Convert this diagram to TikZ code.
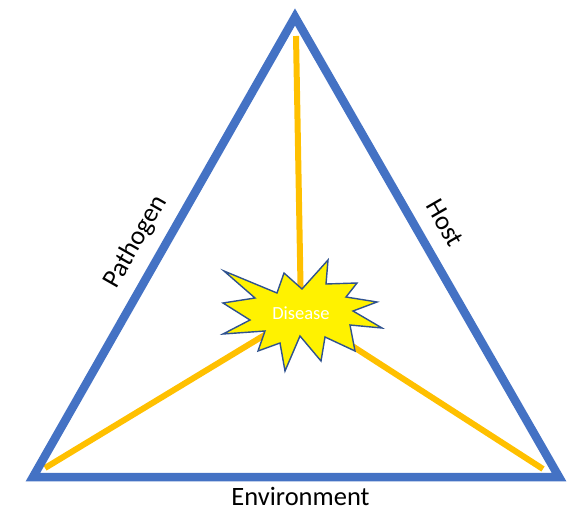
\documentclass[tikz,border=0pt]{standalone}
\usepackage{fontspec}
\setmainfont{Carlito}
\definecolor{triblue}{HTML}{4472C4}
\definecolor{spoke}{HTML}{FFC000}
\definecolor{burstedge}{HTML}{2F528F}
\begin{document}
\begin{tikzpicture}[x=1pt,y=-1pt,
  tri/.style={draw=triblue,line width=8.5pt,line join=miter},
  spokeline/.style={draw=spoke,line width=6pt},
  burst/.style={draw=burstedge,fill=yellow,line width=1.4pt,line join=miter},
  sidelabel/.style={font=\fontsize{26.5}{30}\selectfont,text=black,inner sep=0pt}]
\useasboundingbox (0,0) rectangle (585,518);
% vertices
\coordinate (apex) at (295,17);
\coordinate (bl) at (33,477);
\coordinate (br) at (559,477);
% spoke ends
\coordinate (stop) at (296,36);
\coordinate (sleft) at (45,468);
\coordinate (sright) at (543,469);
\coordinate (hub) at (301,313);
% spokes
\draw[spokeline] (stop) -- (hub);
\draw[spokeline] (sleft) -- (hub);
\draw[spokeline] (sright) -- (hub);
% triangle
\draw[tri] (apex) -- (br) -- (bl) -- cycle;
% starburst
\draw[burst] (224,271) -- (277,293) -- (284,273) -- (302,289) -- (328,260) -- (326,284)
  -- (357,283) -- (346,297) -- (377,302) -- (353,311) -- (382,328) -- (350,325)
  -- (355,351) -- (325,337) -- (321,361) -- (300,336) -- (285,371) -- (280,343)
  -- (258,351) -- (265,331) -- (223,334) -- (250,320) -- (223,303) -- (255,298) -- cycle;
\node[font=\fontsize{18.5}{21}\selectfont,text=white,inner sep=0pt] (disease) at (hub) {Disease};
% labels
\node[sidelabel,rotate=60.3] (pathogen) at (136,242) {Pathogen};
\node[sidelabel,rotate=-60.1] (host) at (445,223) {Host};
\node[sidelabel] (env) at (300.5,496) {Environment};
\end{tikzpicture}
\end{document}
